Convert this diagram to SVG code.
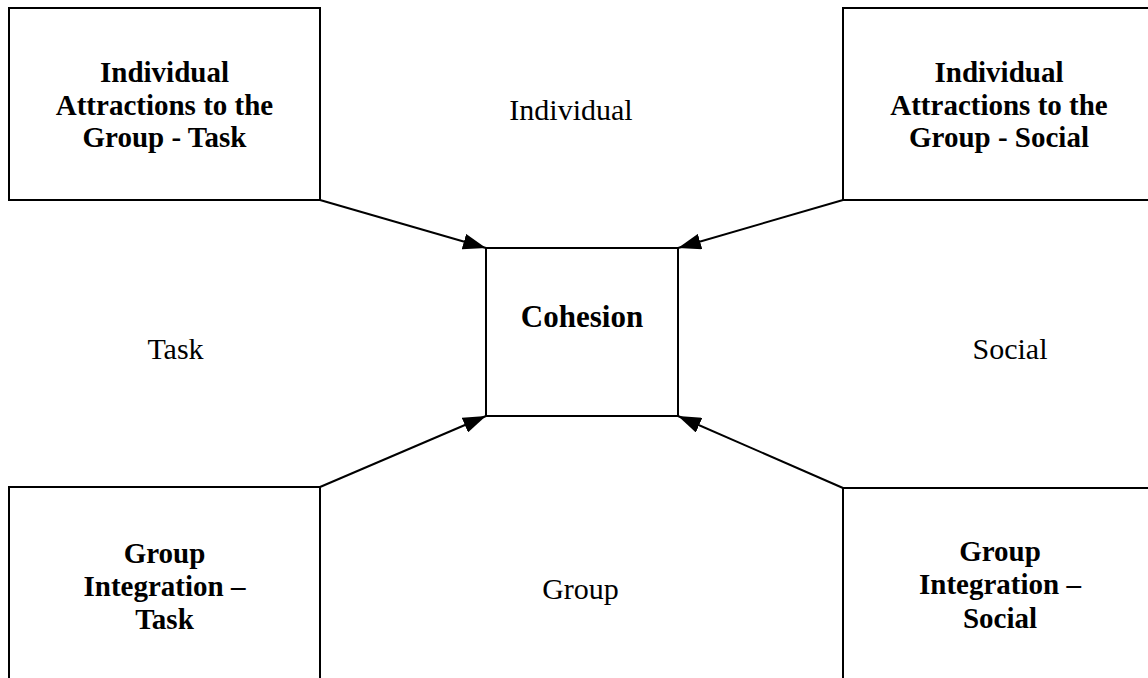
<svg xmlns="http://www.w3.org/2000/svg" width="1148" height="678" viewBox="0 0 1148 678">
<style>
  .box { fill: #ffffff; stroke: #000000; stroke-width: 2; }
  .bold { font-family: "Liberation Serif", "Times New Roman", serif; font-weight: bold; font-size: 29px; fill: #000; text-anchor: middle; }
  .reg { font-family: "Liberation Serif", "Times New Roman", serif; font-size: 30px; fill: #000; text-anchor: middle; }
  .conn { stroke: #000; stroke-width: 2; fill: none; marker-end: url(#arrow); }
</style>
<defs>
  <marker id="arrow" markerUnits="userSpaceOnUse" markerWidth="24" markerHeight="16" viewBox="0 0 24 16" refX="23" refY="8" orient="auto">
    <path d="M0,0 L23,8 L0,16 Z" fill="#000"/>
  </marker>
</defs>
<rect width="1148" height="678" fill="#ffffff"/>

<g id="label-individual"><text class="reg" x="571" y="120">Individual</text></g>
<g id="label-task"><text class="reg" x="175.5" y="359">Task</text></g>
<g id="label-social"><text class="reg" x="1010" y="359">Social</text></g>
<g id="label-group"><text class="reg" x="580.5" y="599">Group</text></g>

<g id="node-atg-task">
  <rect class="box" x="9" y="8" width="311" height="192"/>
  <text class="bold" x="164.5" y="82">Individual</text>
  <text class="bold" x="164.5" y="115">Attractions to the</text>
  <text class="bold" x="164.5" y="147">Group - Task</text>
</g>

<g id="node-atg-social">
  <rect class="box" x="843" y="8" width="320" height="192"/>
  <text class="bold" x="999" y="82">Individual</text>
  <text class="bold" x="999" y="115">Attractions to the</text>
  <text class="bold" x="999" y="147">Group - Social</text>
</g>

<g id="node-gi-task">
  <rect class="box" x="9" y="487" width="311" height="210"/>
  <text class="bold" x="164.5" y="563">Group</text>
  <text class="bold" x="164.5" y="596">Integration –</text>
  <text class="bold" x="164.5" y="629">Task</text>
</g>

<g id="node-gi-social">
  <rect class="box" x="843" y="488" width="320" height="210"/>
  <text class="bold" x="1000" y="561">Group</text>
  <text class="bold" x="1000" y="594">Integration –</text>
  <text class="bold" x="1000" y="628">Social</text>
</g>

<g id="node-cohesion">
  <rect class="box" x="486" y="248" width="192" height="168"/>
  <text class="bold" x="582" y="327" style="font-size:31px">Cohesion</text>
</g>

<g id="connectors">
  <line class="conn" x1="320" y1="200" x2="486" y2="248"/>
  <line class="conn" x1="843" y1="200" x2="678" y2="248"/>
  <line class="conn" x1="320" y1="487" x2="486" y2="416"/>
  <line class="conn" x1="843" y1="488" x2="678" y2="416"/>
</g>
</svg>
